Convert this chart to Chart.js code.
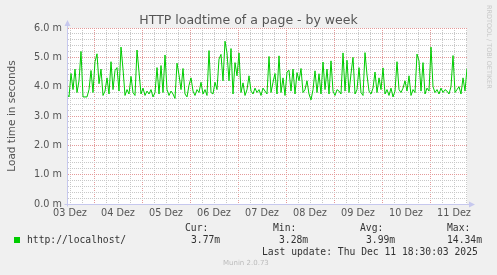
<!DOCTYPE html>
<html>
<head>
<meta charset="utf-8">
<script src="https://cdn.jsdelivr.net/npm/chart.js@4/dist/chart.umd.min.js"></script>
<style>
  html, body { margin: 0; padding: 0; background: #f0f0f0; }
  #wrap { position: relative; width: 497px; height: 275px; overflow: hidden; }
  canvas { position: absolute; left: 0; top: 0; }
  .t { position: absolute; white-space: pre; }
  #title { left: 0; width: 497px; top: 12px; text-align: center; font: 12.5px/15px 'DejaVu Sans'; color: #555; }
  .mono { font: 9.7px/12px 'DejaVu Sans Mono'; color: #333; }
  #rrd { font: 6.5px/8px 'DejaVu Sans'; color: #c8c8c8; transform-origin: 0 0; transform: rotate(90deg); left: 493px; top: 5px; }
  #munin { font: 7px/9px 'DejaVu Sans'; color: #bbb; left: 223px; top: 259px; }
  #swatch { position: absolute; left: 14px; top: 237px; width: 6px; height: 6px; background: #00cc00; }
</style>
</head>
<body>
<div id="wrap">
  <canvas id="chart" width="497" height="275"></canvas>
  <div class="t" id="title">HTTP loadtime of a page - by week</div>
  <div class="t" id="rrd">RRDTOOL / TOBI OETIKER</div>
  <div id="swatch"></div>
  <div class="t mono" style="left:27px;top:234px">http://localhost/</div>
  <div class="t mono" style="left:185px;top:222px">Cur:</div>
  <div class="t mono" style="left:191px;top:234px">3.77m</div>
  <div class="t mono" style="left:273px;top:222px">Min:</div>
  <div class="t mono" style="left:279px;top:234px">3.28m</div>
  <div class="t mono" style="left:360px;top:222px">Avg:</div>
  <div class="t mono" style="left:366px;top:234px">3.99m</div>
  <div class="t mono" style="left:447px;top:222px">Max:</div>
  <div class="t mono" style="left:447px;top:234px">14.34m</div>
  <div class="t mono" style="left:262px;top:246px">Last update: Thu Dec 11 18:30:03 2025</div>
  <div class="t" id="munin">Munin 2.0.73</div>
</div>
<script>
// --- DATA ---
// x axis: hours since 03 Dez 10:30, one sample per hour
const dayLabels = ['03 Dez', '04 Dez', '05 Dez', '06 Dez', '07 Dez', '08 Dez', '09 Dez', '10 Dez', '11 Dez'];
const yTickLabels = ['0.0 m', '1.0 m', '2.0 m', '3.0 m', '4.0 m', '5.0 m', '6.0 m'];
const loadTime = [
  3.75, 3.65, 4.45, 3.9, 4.6, 3.8, 4.2, 5.2, 3.65, 3.65,
  3.65, 3.9, 4.55, 3.8, 4.85, 5.12, 4.1, 4.6, 3.7, 3.85,
  4.3, 3.75, 4.85, 3.9, 4.55, 4.65, 3.85, 5.35, 4.6, 3.7,
  3.9, 3.75, 4.35, 3.8, 3.7, 5.25, 4.5, 3.75, 3.95, 3.7,
  3.85, 3.75, 3.9, 3.65, 3.8, 4.65, 3.75, 4.72, 3.8, 5.08,
  3.9, 3.7, 3.85, 3.75, 3.6, 4.8, 4.4, 3.9, 4.62, 3.75,
  3.65, 4.05, 4.3, 3.85, 3.7, 3.9, 3.8, 4.15, 3.75, 3.9,
  3.7, 5.23, 3.8, 3.75, 4.15, 3.9, 4.94, 5.1, 4.2, 5.55,
  5.15, 4.2, 5.3, 3.75, 4.82, 4.37, 5.15, 3.8, 4.13, 3.7,
  3.9, 4.37, 3.85, 3.75, 3.95, 3.8, 3.9, 3.7, 3.95, 3.85,
  3.75, 5.03, 3.8, 4.15, 4.45, 3.75, 5.05, 3.8, 4.3, 3.7,
  4.5, 4.56, 3.85, 4.6, 3.75, 4.48, 4.2, 4.62, 3.8, 3.9,
  4.2, 3.75, 3.55, 3.9, 4.54, 3.8, 4.44, 3.75, 4.84, 3.9,
  4.6, 3.75, 4.88, 3.85, 3.7, 3.9, 3.85, 3.75, 5.15, 3.85,
  4.9, 3.8, 4.44, 5.0, 3.75, 3.9, 4.65, 3.8, 3.7, 5.16,
  4.4, 3.85, 3.75, 3.95, 4.5, 3.8, 4.3, 3.9, 4.64, 3.75,
  3.9, 3.7, 3.95, 3.65, 3.85, 4.85, 3.9, 3.8, 3.95, 4.2,
  3.85, 4.37, 3.7, 3.9, 3.8, 5.11, 4.88, 3.85, 4.82, 3.75,
  3.95, 3.85, 5.35, 4.0, 3.8, 3.9, 3.75, 3.95, 3.8, 3.9,
  3.85, 3.75, 4.0, 5.06, 3.8, 3.9, 4.0, 3.75, 4.3, 3.85,
  4.62
];
const hours = loadTime.map((_, i) => i);

// --- STYLE ---
const LINE = '#00cc00';
const GRID_MINOR = '#c8c8c8';
const GRID_MAJOR = '#e49a9a';
const AXIS = '#c6c8ee';
const TEXT = '#555';

const isInt = v => Math.abs(v - Math.round(v)) < 1e-6;

// white plot area + axis lines with arrows, like rrdtool
const muninFrame = {
  id: 'muninFrame',
  beforeDraw(chart) {
    const { ctx, chartArea: a } = chart;
    ctx.save();
    ctx.fillStyle = '#fff';
    ctx.fillRect(a.left, a.top, a.right - a.left, a.bottom - a.top);
    ctx.restore();
  },
  afterDraw(chart) {
    const { ctx, chartArea: a } = chart;
    const x0 = Math.round(a.left) + 0.5;
    const y0 = Math.round(a.bottom) + 0.5;
    ctx.save();
    ctx.setLineDash([]);
    ctx.strokeStyle = AXIS;
    ctx.fillStyle = AXIS;
    ctx.lineWidth = 1;
    ctx.beginPath();
    ctx.moveTo(x0, y0 + 2); ctx.lineTo(x0, a.top - 3);
    ctx.moveTo(x0 - 3, y0); ctx.lineTo(a.right + 3, y0);
    ctx.stroke();
    ctx.beginPath();
    ctx.moveTo(x0 - 3, a.top - 2); ctx.lineTo(x0 + 3, a.top - 2); ctx.lineTo(x0, a.top - 8); ctx.closePath();
    ctx.moveTo(a.right + 2, y0 - 3); ctx.lineTo(a.right + 2, y0 + 3); ctx.lineTo(a.right + 8, y0); ctx.closePath();
    ctx.fill();
    ctx.restore();
  }
};

new Chart(document.getElementById('chart'), {
  type: 'line',
  data: {
    datasets: [{
      data: hours.map((h, i) => ({ x: h, y: loadTime[i] })),
      borderColor: LINE,
      borderWidth: 1,
      pointRadius: 0,
      tension: 0,
      fill: false
    }]
  },
  options: {
    responsive: false,
    animation: false,
    devicePixelRatio: 1,
    layout: { padding: { left: 0, top: 28, right: 30, bottom: 0 } },
    plugins: { legend: { display: false }, tooltip: { enabled: false } },
    scales: {
      x: {
        type: 'linear',
        min: 0,
        max: 200,
        afterBuildTicks: s => {
          const t = [];
          for (let h = 1.5; h < 200; h += 6) t.push({ value: h });
          s.ticks = t;
        },
        afterFit: s => { s.height = 71; },
        grid: {
          drawTicks: false,
          lineWidth: 1,
          color: c => (Number.isInteger((c.tick.value - 13.5) / 24) ? GRID_MAJOR : GRID_MINOR)
        },
        border: { display: true, color: AXIS, width: 1, dash: [1, 1] },
        ticks: {
          autoSkip: false,
          maxRotation: 0,
          padding: 4,
          color: TEXT,
          font: { family: 'DejaVu Sans', size: 9.7 },
          callback: v => {
            const d = (v - 1.5) / 24;
            return Number.isInteger(d) ? dayLabels[d] : '';
          }
        }
      },
      y: {
        min: 0,
        max: 6,
        afterBuildTicks: s => {
          const t = [];
          for (let k = 0; k <= 30; k++) t.push({ value: k / 5 });
          s.ticks = t;
        },
        afterFit: s => { s.width = 67; },
        grid: {
          drawTicks: false,
          lineWidth: 1,
          color: c => (isInt(c.tick.value) ? GRID_MAJOR : GRID_MINOR)
        },
        border: { display: true, color: AXIS, width: 1, dash: [1, 1] },
        ticks: {
          autoSkip: false,
          padding: 5,
          color: TEXT,
          font: { family: 'DejaVu Sans', size: 9.7 },
          callback: v => (isInt(v) ? yTickLabels[Math.round(v)] : '')
        },
        title: {
          display: true,
          text: 'Load time in seconds',
          color: TEXT,
          font: { family: 'DejaVu Sans', size: 10.5 },
          padding: { top: 6, bottom: 0 }
        }
      }
    }
  },
  plugins: [muninFrame]
});
</script>
</body>
</html>
